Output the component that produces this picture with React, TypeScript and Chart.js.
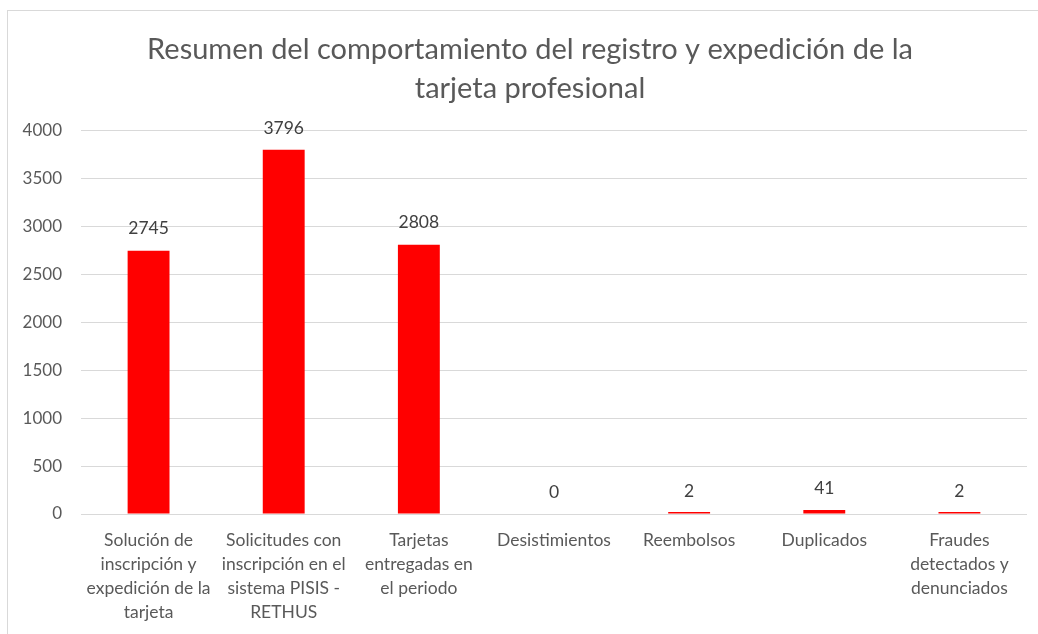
import React, { useEffect, useRef } from "react";
import { Chart, registerables } from "chart.js";

Chart.register(...registerables);

const titleLines = [
  "Resumen del comportamiento del registro y expedición de la",
  "tarjeta profesional",
];

const categories: string[][] = [
  ["Solución de", "inscripción y", "expedición de la", "tarjeta"],
  ["Solicitudes con", "inscripción en el", "sistema PISIS -", "RETHUS"],
  ["Tarjetas", "entregadas en", "el periodo"],
  ["Desistimientos"],
  ["Reembolsos"],
  ["Duplicados"],
  ["Fraudes", "detectados y", "denunciados"],
];

const values = [2745, 3796, 2808, 0, 2, 41, 2];

const yMin = 0;
const yMax = 4000;
const yStep = 500;

const FONT = "Lato, 'Open Sans', sans-serif";
const TEXT = "#595959";

const valueLabels = {
  id: "valueLabels",
  afterDatasetsDraw(chart: any) {
    const ctx = chart.ctx;
    const meta = chart.getDatasetMeta(0);
    ctx.save();
    ctx.font = `17.5px ${FONT}`;
    ctx.fillStyle = "#404040";
    ctx.textAlign = "center";
    ctx.textBaseline = "middle";
    meta.data.forEach((el: any, i: number) => {
      const v = chart.data.datasets[0].data[i];
      const yBase = chart.scales.y.getPixelForValue(v);
      ctx.fillText(String(v), el.x, yBase - 22);
    });
    ctx.restore();
  },
};

export default function App() {
  const ref = useRef<HTMLCanvasElement | null>(null);

  useEffect(() => {
    if (!ref.current) return;
    const chart = new Chart(ref.current, {
      type: "bar",
      data: {
        labels: categories,
        datasets: [
          {
            data: values,
            backgroundColor: (c: any) => (c.raw === 0 ? "rgba(0,0,0,0)" : "#FF0000"),
            barPercentage: 0.31,
            categoryPercentage: 1,
            minBarLength: 2,
          },
        ],
      },
      options: {
        animation: false,
        responsive: false,
        maintainAspectRatio: false,
        layout: { padding: { left: 0, right: 11, top: 0, bottom: 0 } },
        plugins: {
          legend: { display: false },
          tooltip: { enabled: false },
          title: {
            display: true,
            text: titleLines,
            color: TEXT,
            font: { family: FONT, size: 29, weight: "normal", lineHeight: 1.35 },
            padding: { top: 19, bottom: 22 },
          },
        },
        scales: {
          x: {
            grid: { display: false, drawTicks: false },
            border: { display: false },
            ticks: {
              color: TEXT,
              font: { family: FONT, size: 17.5, lineHeight: 1.38 },
              padding: 14,
              maxRotation: 0,
              autoSkip: false,
            },
            afterFit: (s: any) => {
              s.height = 120;
            },
          },
          y: {
            min: yMin,
            max: yMax,
            grid: { color: "#d9d9d9", drawTicks: false, lineWidth: 1 },
            border: { display: false },
            ticks: {
              stepSize: yStep,
              color: TEXT,
              font: { family: FONT, size: 17 },
              padding: 19,
              callback: (v: any) => String(v),
            },
            afterFit: (s: any) => {
              s.width = 73;
            },
          },
          yRight: {
            type: "linear",
            position: "right",
            min: yMin,
            max: yMax,
            grid: { display: false, drawTicks: false },
            border: { display: false },
            ticks: { display: false },
            afterFit: (s: any) => {
              s.width = 25;
            },
          },
        },
      },
      plugins: [valueLabels],
    });
    return () => chart.destroy();
  }, []);

  return (
    <div
      style={{
        position: "absolute",
        left: 7,
        top: 10,
        width: 1031,
        height: 624,
        borderTop: "1px solid #d9d9d9",
        borderLeft: "1px solid #d9d9d9",
        background: "#fff",
        overflow: "hidden",
      }}
    >
      <canvas ref={ref} width={1055} height={623} style={{ display: "block" }} />
    </div>
  );
}
